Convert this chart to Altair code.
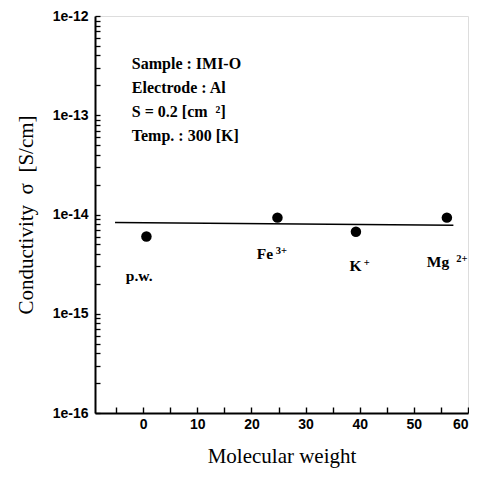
import altair as alt
import pandas as pd

# data points
mw = [0.6, 24.8, 39.3, 56.1]
sigma = [6.0e-15, 9.3e-15, 6.7e-15, 9.3e-15]

# fitted line
line_x = [-5.2, 57.3]
line_y = [8.3e-15, 7.8e-15]

# point labels
lab_text = ["p.w.", "Fe", "K", "Mg"]
lab_x = [-3.2, 21.0, 38.1, 52.4]
lab_y = [2.14e-15, 3.6e-15, 2.7e-15, 2.95e-15]
sup_text = ["3+", "+", "2+"]
sup_x = [24.5, 40.75, 57.85]
sup_y = [4.0e-15, 3.0e-15, 3.3e-15]

# info box
info_text = ["Sample : IMI-O", "Electrode : Al", "S = 0.2 [cm\u00a0\u00a0\u00b2]", "Temp. : 300 [K]"]
info_x = [-2.1, -2.1, -2.1, -2.1]
info_y = [2.95e-13, 1.66e-13, 9.5e-14, 5.5e-14]

# ticks (major + minor)
y_major = [1e-16, 1e-15, 1e-14, 1e-13, 1e-12]
y_minor = [m * 10.0 ** e for e in range(-16, -12) for m in range(2, 10)]
x_major = [0, 10, 20, 30, 40, 50, 60]
x_minor = [-5, 5, 15, 25, 35, 45, 55]

W, H = 373, 397
xscale = alt.Scale(domain=[-8.9, 60], nice=False, zero=False)
yscale = alt.Scale(type="log", domain=[1e-16, 1e-12], nice=False)

xaxis = alt.Axis(values=sorted(x_major + x_minor), ticks=True, tickSize=alt.ExprRef(expr="-6"),
                 tickColor="black", tickWidth=1.4, grid=False,
                 domainColor="black", domainWidth=2,
                 labelExpr="datum.value % 10 == 0 ? datum.label : ''",
                 labelFont="Liberation Sans", labelFontWeight="bold", labelFontSize=14,
                 labelColor="black", labelPadding=10, labelFlush=True,
                 titleFont="Liberation Serif", titleFontSize=21, titleFontWeight="normal",
                 titleColor="black", titlePadding=14)
yaxis = alt.Axis(values=sorted(y_major + y_minor), ticks=True, tickSize=alt.ExprRef(expr="-5"),
                 tickColor="black", tickWidth=1.3, grid=False,
                 domainColor="black", domainWidth=2,
                 labelExpr="abs(log(datum.value)/LN10 - round(log(datum.value)/LN10)) < 0.001 ? "
                           "'1e' + round(log(datum.value)/LN10) : ''",
                 labelFont="Liberation Sans", labelFontWeight="bold", labelFontSize=14,
                 labelColor="black", labelPadding=12, labelFlush=False, labelOverlap=False,
                 titleFont="Liberation Serif", titleFontSize=21, titleFontWeight="normal",
                 titleColor="black", titlePadding=16)


def X(f):
    return alt.X(f, type="quantitative", scale=xscale, axis=xaxis, title="Molecular weight")


def Y(f):
    return alt.Y(f, type="quantitative", scale=yscale, axis=yaxis,
                 title="Conductivity\u00a0\u00a0\u03c3\u00a0\u00a0[S/cm]")


pts = pd.DataFrame({"x": mw, "y": sigma})
ln = pd.DataFrame({"x": line_x, "y": line_y})
labs = pd.DataFrame({"x": lab_x, "y": lab_y, "t": lab_text})
sups = pd.DataFrame({"x": sup_x, "y": sup_y, "t": sup_text})
info = pd.DataFrame({"x": info_x, "y": info_y, "t": info_text})

line = alt.Chart(ln).mark_line(color="black", strokeWidth=1.6).encode(x=X("x"), y=Y("y"))
points = alt.Chart(pts).mark_circle(color="black", opacity=1, size=110).encode(x=X("x"), y=Y("y"))
labels = alt.Chart(labs).mark_text(align="left", baseline="alphabetic", font="Liberation Serif",
                                   fontSize=15.5, fontWeight="bold", color="black").encode(
    x=X("x"), y=Y("y"), text="t")
suplabels = alt.Chart(sups).mark_text(align="left", baseline="alphabetic", font="Liberation Serif",
                                      fontSize=10.5, fontWeight="bold", color="black").encode(
    x=X("x"), y=Y("y"), text="t")
infotext = alt.Chart(info).mark_text(align="left", baseline="alphabetic", font="Liberation Serif",
                                     fontSize=16, fontWeight="bold", color="black").encode(
    x=X("x"), y=Y("y"), text="t")

chart = alt.layer(
    line, points, labels, suplabels, infotext
).properties(
    width=W, height=H,
    autosize=alt.AutoSizeParams(type="none"),
    padding={"left": 87, "top": 8, "right": 1, "bottom": 56}
).configure_view(stroke="black", strokeWidth=1.5, clip=False).configure(background="white")

chart.save("out.html", embed_options={"renderer": "svg", "actions": False})
